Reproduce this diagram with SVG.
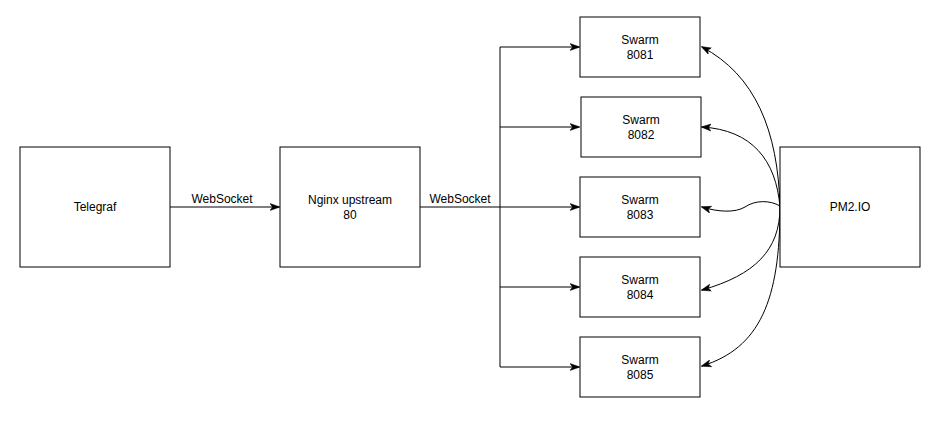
<svg xmlns="http://www.w3.org/2000/svg" width="951" height="421" viewBox="0 0 951 421">
<style>
.box{fill:#fff;stroke:#000;stroke-width:1}
.t{font-family:"Liberation Sans",Arial,sans-serif;font-size:12px;fill:#000;text-anchor:middle}
.e{fill:none;stroke:#000;stroke-width:1}
</style>
<defs>
<marker id="a" viewBox="0 0 10 10" refX="9" refY="5" markerWidth="10" markerHeight="10" markerUnits="userSpaceOnUse" orient="auto">
<path d="M0,1.5 L10,5 L0,8.5 L2.5,5 Z" fill="#000" stroke="#000" stroke-width="0.5"/>
</marker>
</defs>
<rect width="951" height="421" fill="#fff"/>
<g id="connectors">
<path class="e" d="M170,207 H279" marker-end="url(#a)"/>
<path class="e" d="M420,207 H579" marker-end="url(#a)"/>
<path class="e" d="M500,47 V367"/>
<path class="e" d="M500,47 H579" marker-end="url(#a)"/>
<path class="e" d="M500,127 H579" marker-end="url(#a)"/>
<path class="e" d="M500,287 H579" marker-end="url(#a)"/>
<path class="e" d="M500,367 H579" marker-end="url(#a)"/>
<path class="e" d="M780,207 C778,130 755,75 702,47" marker-end="url(#a)"/>
<path class="e" d="M780,207 C776,160 752,130 702,127" marker-end="url(#a)"/>
<path class="e" d="M780,206 C770,200 755,200 745,207 C735,213 718,212 702,207" marker-end="url(#a)"/>
<path class="e" d="M780,207 C780,250 755,275 702,290" marker-end="url(#a)"/>
<path class="e" d="M780,207 C780,300 760,348 702,366" marker-end="url(#a)"/>
<text class="t" x="222" y="203">WebSocket</text>
<text class="t" x="460" y="203">WebSocket</text>
</g>
<g id="telegraf"><rect class="box" x="20" y="147" width="150" height="120"/><text class="t" x="95" y="211">Telegraf</text></g>
<g id="nginx"><rect class="box" x="280" y="147" width="140" height="120"/><text class="t" x="350" y="204">Nginx upstream</text><text class="t" x="350" y="219">80</text></g>
<g id="swarm8081"><rect class="box" x="580" y="17" width="120" height="60"/><text class="t" x="640" y="44">Swarm</text><text class="t" x="640" y="59">8081</text></g>
<g id="swarm8082"><rect class="box" x="581" y="97" width="120" height="60"/><text class="t" x="641" y="124">Swarm</text><text class="t" x="641" y="139">8082</text></g>
<g id="swarm8083"><rect class="box" x="580" y="177" width="120" height="60"/><text class="t" x="640" y="204">Swarm</text><text class="t" x="640" y="219">8083</text></g>
<g id="swarm8084"><rect class="box" x="580" y="257" width="120" height="60"/><text class="t" x="640" y="284">Swarm</text><text class="t" x="640" y="299">8084</text></g>
<g id="swarm8085"><rect class="box" x="580" y="337" width="120" height="60"/><text class="t" x="640" y="364">Swarm</text><text class="t" x="640" y="379">8085</text></g>
<g id="pm2io"><rect class="box" x="780" y="147" width="140" height="120"/><text class="t" x="850" y="211">PM2.IO</text></g>
</svg>
